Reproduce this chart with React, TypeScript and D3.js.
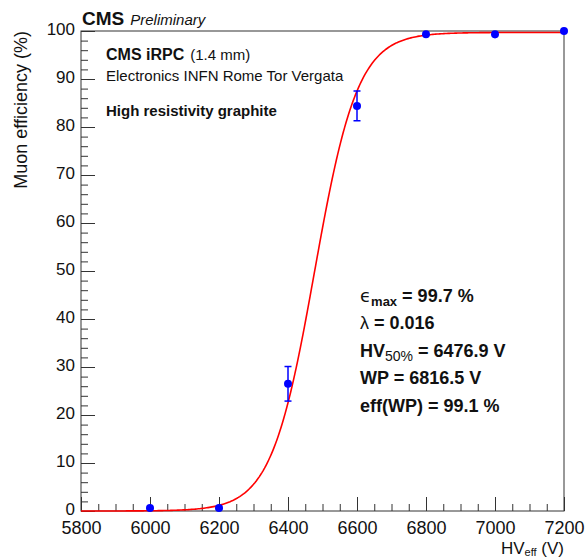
import React, { useEffect, useRef } from "react";
import * as d3 from "d3";

// measured points (HV in V, efficiency in %)
const hvPoints = [6000, 6200, 6400, 6600, 6800, 7000, 7200];
const effValues = [0.6, 0.6, 26.5, 84.4, 99.3, 99.3, 100];
const effErrors = [0.6, 0.6, 3.6, 3.1, 0.4, 0.8, 0.2];

// sigmoid fit parameters, as printed on the plot
const fitEmax = 99.7;
const fitLambda = 0.016;
const fitHv50 = 6476.9;

const xTicks = [5800, 6000, 6200, 6400, 6600, 6800, 7000, 7200];
const yTicks = [0, 10, 20, 30, 40, 50, 60, 70, 80, 90, 100];

const FONT = "'Liberation Sans', Arial, Helvetica, sans-serif";

const App = () => {
  const ref = useRef<SVGSVGElement>(null);

  useEffect(() => {
    const width = 585;
    const height = 558;
    const margin = { top: 31, right: 21, bottom: 47, left: 81 };
    const w = width - margin.left - margin.right;
    const h = height - margin.top - margin.bottom;

    const svg = d3.select(ref.current);
    svg.selectAll("*").remove();
    svg.attr("width", width).attr("height", height);

    const g = svg
      .append("g")
      .attr("transform", "translate(" + margin.left + "," + margin.top + ")");

    const x = d3.scaleLinear().domain([5800, 7200]).range([0, w]);
    const y = d3.scaleLinear().domain([0, 100]).range([h, 0]);

    // minor ticks
    const xMinor = d3.range(5800, 7201, 50);
    const yMinor = d3.range(0, 101, 2);

    const axisColor = "#333";

    g.append("g")
      .attr("transform", "translate(0," + h + ")")
      .call(d3.axisBottom(x).tickValues(xMinor).tickSize(-7).tickFormat(() => ""))
      .call((s) => s.select(".domain").remove())
      .selectAll("line")
      .attr("stroke", axisColor);

    g.append("g")
      .call(d3.axisLeft(y).tickValues(yMinor).tickSize(-7).tickFormat(() => ""))
      .call((s) => s.select(".domain").remove())
      .selectAll("line")
      .attr("stroke", axisColor);

    const xAxis = g
      .append("g")
      .attr("transform", "translate(0," + h + ")")
      .call(
        d3
          .axisBottom(x)
          .tickValues(xTicks)
          .tickSize(-14)
          .tickPadding(10.5)
          .tickFormat((d) => String(d))
      );
    xAxis.select(".domain").remove();
    xAxis.selectAll("line").attr("stroke", axisColor);
    xAxis
      .selectAll("text")
      .style("font-family", FONT)
      .style("font-size", "18px")
      .attr("fill", "#111");

    const yAxis = g
      .append("g")
      .call(
        d3
          .axisLeft(y)
          .tickValues(yTicks)
          .tickSize(-14)
          .tickPadding(6)
          .tickFormat((d) => String(d))
      );
    yAxis.select(".domain").remove();
    yAxis.selectAll("line").attr("stroke", axisColor);
    yAxis
      .selectAll("text")
      .style("font-family", FONT)
      .style("font-size", "17px")
      .attr("dy", "0.22em")
      .attr("fill", "#111");

    // frame
    g.append("rect")
      .attr("x", 0)
      .attr("y", 0)
      .attr("width", w)
      .attr("height", h)
      .attr("fill", "none")
      .attr("stroke", axisColor)
      .attr("stroke-width", 1);

    // fit curve
    const fitX = d3.range(5800, 7200.1, 4);
    const line = d3
      .line<number>()
      .x((d) => x(d))
      .y((d) => y(fitEmax / (1 + Math.exp(-fitLambda * (d - fitHv50)))));
    g.append("path")
      .datum(fitX)
      .attr("d", line)
      .attr("fill", "none")
      .attr("stroke", "#ff0000")
      .attr("stroke-width", 1.6);

    // error bars
    const pts = hvPoints.map((hv, i) => ({ hv, eff: effValues[i], err: effErrors[i] }));
    const bars = g.append("g").attr("stroke", "#0000ff").attr("stroke-width", 1.5);
    pts.forEach((p) => {
      const yt = y(Math.min(p.eff + p.err, 100));
      const yb = y(Math.max(p.eff - p.err, 0));
      bars
        .append("line")
        .attr("x1", x(p.hv))
        .attr("x2", x(p.hv))
        .attr("y1", yt)
        .attr("y2", yb);
      if (p.err > 1) {
        [yt, yb].forEach((yy) =>
          bars
            .append("line")
            .attr("x1", x(p.hv) - 3.5)
            .attr("x2", x(p.hv) + 3.5)
            .attr("y1", yy)
            .attr("y2", yy)
        );
      }
    });

    g.selectAll(".pt")
      .data(pts)
      .enter()
      .append("circle")
      .attr("class", "pt")
      .attr("cx", (d) => x(d.hv))
      .attr("cy", (d) => y(d.eff))
      .attr("r", 4)
      .attr("fill", "#0000ff");

    // CMS label
    const cms = svg
      .append("text")
      .attr("x", 82)
      .attr("y", 25)
      .style("font-family", FONT)
      .attr("fill", "#111");
    cms.append("tspan").attr("font-weight", "bold").attr("font-size", 19).text("CMS");
    cms
      .append("tspan")
      .attr("font-style", "italic")
      .attr("font-size", 15)
      .attr("dx", 6)
      .text("Preliminary");

    // top-left info
    const t1 = svg
      .append("text")
      .attr("x", 106)
      .attr("y", 60)
      .style("font-family", FONT)
      .attr("font-size", 15)
      .attr("fill", "#111");
    t1.append("tspan").attr("font-weight", "bold").attr("font-size", 16).text("CMS iRPC");
    t1.append("tspan").attr("dx", 6).text("(1.4 mm)");

    svg
      .append("text")
      .attr("x", 106)
      .attr("y", 81)
      .style("font-family", FONT)
      .attr("font-size", 15)
      .attr("fill", "#111")
      .text("Electronics INFN Rome Tor Vergata");

    svg
      .append("text")
      .attr("x", 106)
      .attr("y", 116)
      .style("font-family", FONT)
      .attr("font-size", 15)
      .attr("font-weight", "bold")
      .attr("fill", "#111")
      .text("High resistivity graphite");

    // fit results
    const st = svg
      .append("g")
      .style("font-family", FONT)
      .attr("font-size", 18)
      .attr("font-weight", "bold")
      .attr("fill", "#111");

    const l1 = st.append("text").attr("x", 360).attr("y", 302);
    l1.append("tspan").attr("font-weight", "normal").attr("font-family", "DejaVu Sans").text("ϵ");
    l1.append("tspan").attr("font-size", 13).attr("dy", 4).text("max");
    l1.append("tspan").attr("dy", -4).text(" = " + fitEmax.toFixed(1) + " %");

    const l2 = st.append("text").attr("x", 360).attr("y", 329);
    l2.append("tspan").attr("font-weight", "normal").text("λ");
    l2.append("tspan").text(" = " + fitLambda.toFixed(3));

    const l3 = st.append("text").attr("x", 360).attr("y", 357);
    l3.append("tspan").text("HV");
    l3.append("tspan").attr("font-size", 14).attr("font-weight", "normal").attr("dy", 4).text("50%");
    l3.append("tspan").attr("dy", -4).text(" = " + fitHv50.toFixed(1) + " V");

    st.append("text").attr("x", 360).attr("y", 384).text("WP = 6816.5 V");
    st.append("text").attr("x", 360).attr("y", 412).text("eff(WP) = 99.1 %");

    // axis titles
    const xt = svg
      .append("text")
      .attr("x", 564)
      .attr("y", 553.5)
      .attr("text-anchor", "end")
      .style("font-family", FONT)
      .attr("font-size", 17)
      .attr("fill", "#111");
    xt.append("tspan").text("HV");
    xt.append("tspan").attr("font-size", 11).attr("dy", 2.5).text("eff");
    xt.append("tspan").attr("dy", -2.5).text(" (V)");

    svg
      .append("text")
      .attr("transform", "translate(27," + margin.top + ") rotate(-90)")
      .attr("text-anchor", "end")
      .style("font-family", FONT)
      .attr("font-size", 18)
      .attr("fill", "#111")
      .text("Muon efficiency (%)");
  }, []);

  return (
    <div style={{ position: "absolute", left: 0, top: 0, background: "#fff" }}>
      <svg ref={ref} style={{ display: "block" }}></svg>
    </div>
  );
};

export default App;
